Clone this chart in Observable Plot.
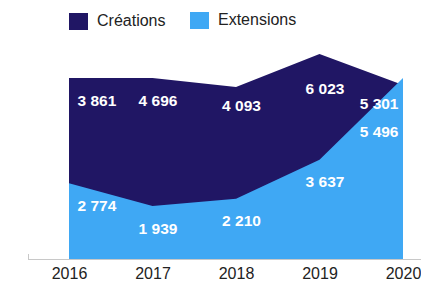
<!DOCTYPE html>
<html>
<head>
<meta charset="utf-8">
<script src="https://cdn.jsdelivr.net/npm/d3@7"></script>
<script src="https://cdn.jsdelivr.net/npm/@observablehq/plot@0.6"></script>
<style>
  html, body { margin: 0; padding: 0; background: #fff; }
  body { font-family: "Liberation Sans", Arial, sans-serif; }
  #wrap { position: relative; width: 421px; height: 285px; overflow: hidden; }
  #legend { position: absolute; left: 0; top: 0; width: 421px; height: 40px; }
  .item { position: absolute; display: flex; align-items: center; font-size: 16px; color: #222; }
  .sw { width: 19px; height: 17px; margin-right: 9px; }
  #chart { position: absolute; left: 0; top: 0; }
</style>
</head>
<body>
<div id="wrap">
  <div id="chart"></div>
  <div id="legend"></div>
</div>
<script>
const years = [2016, 2017, 2018, 2019, 2020];
const creations = [3861, 4696, 4093, 6023, 5301];
const extensions = [2774, 1939, 2210, 3637, 5496];
// Heights of the two overlapping areas as drawn in the picture (same units)
const creationsTop = [6635, 6635, 6303, 7515, 6380];
const extensionsTop = [2774, 1939, 2210, 3637, 6635];
const seriesNames = ["Créations", "Extensions"];
const colors = ["#201664", "#3fa8f4"];

const data = years.map((year, i) => ({
  year,
  creations: creations[i],
  extensions: extensions[i],
  creationsTop: creationsTop[i],
  extensionsTop: extensionsTop[i]
}));

const fmt = v => String(v).replace(/\B(?=(\d{3})+(?!\d))/g, " ");
const first = data.filter((d, i) => i === 0);
const middle = data.filter((d, i) => i > 0 && i < data.length - 1);
const last = data.filter((d, i) => i === data.length - 1);

const labelStyle = {fill: "white", fontWeight: "bold", fontSize: 15.5, fontFamily: "Liberation Sans, Arial, sans-serif"};
function labels(field, yOf, dy) {
  return [
    Plot.text(first, {x: "year", y: yOf, text: d => fmt(d[field]), textAnchor: "start", dx: 8, dy, ...labelStyle}),
    Plot.text(middle, {x: "year", y: yOf, text: d => fmt(d[field]), textAnchor: "middle", dx: 5, dy, ...labelStyle}),
    Plot.text(last, {x: "year", y: yOf, text: d => fmt(d[field]), textAnchor: "end", dx: -5, dy, ...labelStyle})
  ];
}

const xDomain = [2016 - 41 / 83.5, 2020 + 18 / 83.5];

const chart = Plot.plot({
  width: 421,
  height: 285,
  marginLeft: 28,
  marginRight: 0,
  marginTop: 13.5,
  marginBottom: 26,
  style: {fontFamily: "Liberation Sans, Arial, sans-serif", background: "white"},
  x: {type: "linear", domain: xDomain, label: null},
  y: {domain: [0, 9000], axis: null},
  marks: [
    Plot.areaY(data, {x: "year", y: "creationsTop", fill: colors[0]}),
    Plot.areaY(data, {x: "year", y: "extensionsTop", fill: colors[1]}),
    Plot.ruleY([0], {stroke: "#c8c8c8", strokeWidth: 1}),
    Plot.ruleX([xDomain[0]], {y1: 0, y2: 0, insetTop: -5, stroke: "#c8c8c8"}),
    Plot.axisX(years, {tickSize: 0, tickPadding: 8, tickFormat: d => String(d), fontSize: 16, fill: "#222", label: null}),
    ...labels("creations", d => d.creationsTop / 2, -68),
    ...labels("extensions", "extensions", 22)
  ]
});
document.getElementById("chart").appendChild(chart);

const legend = document.getElementById("legend");
const lefts = [69, 190];
const tops = [12, 11];
seriesNames.forEach((name, i) => {
  const item = document.createElement("div");
  item.className = "item";
  item.style.left = lefts[i] + "px";
  item.style.top = tops[i] + "px";
  const sw = document.createElement("div");
  sw.className = "sw";
  sw.style.background = colors[i];
  item.appendChild(sw);
  const t = document.createElement("span");
  t.textContent = name;
  item.appendChild(t);
  legend.appendChild(item);
});
</script>
</body>
</html>
